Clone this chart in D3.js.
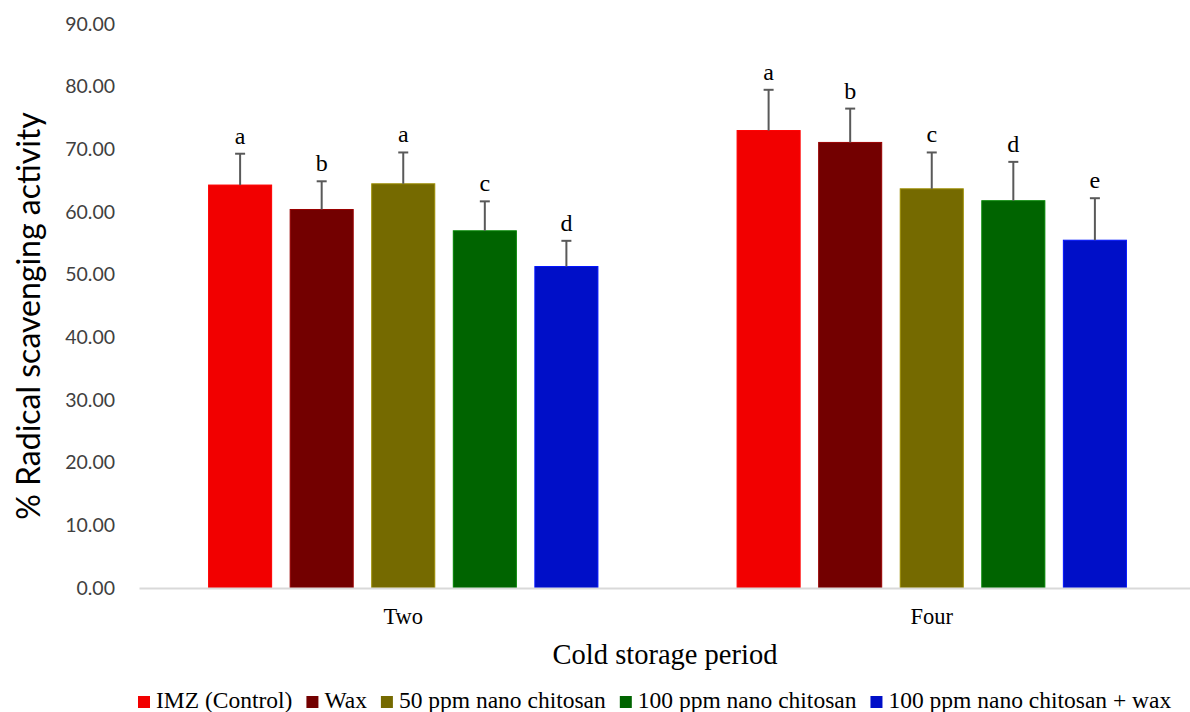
<!DOCTYPE html>
<html>
<head>
<meta charset="utf-8">
<script src="https://cdn.jsdelivr.net/npm/d3@7"></script>
<style>
  body { margin: 0; background: #fff; }
  svg { display: block; }
</style>
</head>
<body>
<div id="chart"></div>
<script>
// data
const periods = ["Two", "Four"];
const treatments = ["IMZ (Control)", "Wax", "50 ppm nano chitosan", "100 ppm nano chitosan", "100 ppm nano chitosan + wax"];
const colors = ["#f20000", "#730000", "#756a00", "#006400", "#000fc8"];
const meanTwo = [64.3, 60.4, 64.5, 57.0, 51.3];
const meanFour = [73.0, 71.1, 63.7, 61.8, 55.5];
const errTwo = [5.0, 4.5, 5.0, 4.7, 4.1];
const errFour = [6.5, 5.4, 5.8, 6.2, 6.7];
const lettersTwo = ["a", "b", "a", "c", "d"];
const lettersFour = ["a", "b", "c", "d", "e"];
const yTicks = [0, 10, 20, 30, 40, 50, 60, 70, 80, 90];

const width = 1190, height = 712;
const m = {top: 24, left: 139, right: -6, bottom: 124};
const serif = "'Liberation Serif', 'Times New Roman', serif";
const sans = "Lato, 'Open Sans', sans-serif";

const rows = [];
periods.forEach((p, i) => {
  const means = i === 0 ? meanTwo : meanFour;
  const errs = i === 0 ? errTwo : errFour;
  const lets = i === 0 ? lettersTwo : lettersFour;
  treatments.forEach((t, j) => rows.push({period: p, treat: t, idx: j, mean: means[j], err: errs[j], letter: lets[j]}));
});

const svg = d3.select("#chart").append("svg").attr("width", width).attr("height", height);

const x0 = d3.scaleBand().domain(periods).range([m.left, width - m.right]).paddingInner(0).paddingOuter(0);
const x1 = d3.scaleBand().domain(treatments).range([0, x0.bandwidth()]).paddingInner(0.227).paddingOuter(0.853);
const y = d3.scaleLinear().domain([0, 90]).range([height - m.bottom, m.top]);

// y axis labels, no line
const yAxis = svg.append("g").attr("transform", `translate(${m.left},0)`)
  .call(d3.axisLeft(y).tickValues(yTicks).tickFormat(d3.format(".2f")).tickSize(0).tickPadding(24));
yAxis.select(".domain").remove();
yAxis.selectAll("text").attr("font-family", sans).attr("font-size", 19.5).attr("fill", "#404040");

// bars
const g = svg.append("g");
g.selectAll("rect.bar").data(rows).enter().append("rect")
  .attr("class", "bar")
  .attr("x", d => x0(d.period) + x1(d.treat))
  .attr("y", d => y(d.mean))
  .attr("width", x1.bandwidth())
  .attr("height", d => y(0) - y(d.mean))
  .attr("fill", d => colors[d.idx])
  .attr("stroke", d => d3.color(colors[d.idx]).brighter(0.8))
  .attr("stroke-width", 1);

// error bars (upper only)
const cx = d => x0(d.period) + x1(d.treat) + x1.bandwidth() / 2;
g.selectAll("line.err").data(rows).enter().append("line")
  .attr("x1", cx).attr("x2", cx)
  .attr("y1", d => y(d.mean)).attr("y2", d => y(d.mean + d.err))
  .attr("stroke", "#595959").attr("stroke-width", 2);
g.selectAll("line.cap").data(rows).enter().append("line")
  .attr("x1", d => cx(d) - 5).attr("x2", d => cx(d) + 5)
  .attr("y1", d => y(d.mean + d.err)).attr("y2", d => y(d.mean + d.err))
  .attr("stroke", "#595959").attr("stroke-width", 2);

// significance letters
g.selectAll("text.letter").data(rows).enter().append("text")
  .attr("x", cx)
  .attr("y", d => y(d.mean + d.err) - 10)
  .attr("text-anchor", "middle")
  .attr("font-family", serif)
  .attr("font-size", 24)
  .text(d => d.letter);

// x axis
const xAxis = svg.append("g").attr("transform", `translate(0,${y(0)})`)
  .call(d3.axisBottom(x0).tickSize(0).tickPadding(20));
xAxis.select(".domain").attr("stroke", "#d9d9d9").attr("stroke-width", 2);
xAxis.selectAll("text").attr("font-family", serif).attr("font-size", 22.5).attr("fill", "#000");

// axis titles
svg.append("text")
  .attr("transform", `translate(40,316) rotate(-90)`)
  .attr("text-anchor", "middle")
  .attr("font-family", sans)
  .attr("font-size", 32)
  .attr("fill", "#000")
  .text("% Radical scavenging activity");

svg.append("text")
  .attr("x", 665)
  .attr("y", 664)
  .attr("text-anchor", "middle")
  .attr("font-family", serif)
  .attr("font-size", 28.5)
  .text("Cold storage period");

// legend
const legend = svg.append("g").attr("transform", "translate(138,702)");
let lx = 0;
treatments.forEach((t, j) => {
  const item = legend.append("g").attr("transform", `translate(${lx},0)`);
  item.append("rect").attr("x", 0).attr("y", -6).attr("width", 12).attr("height", 12).attr("fill", colors[j]);
  const txt = item.append("text").attr("x", 18).attr("y", 6)
    .attr("font-family", serif)
    .attr("font-size", 23.5)
    .text(t);
  lx += 18 + txt.node().getComputedTextLength() + 14;
});
</script>
</body>
</html>
